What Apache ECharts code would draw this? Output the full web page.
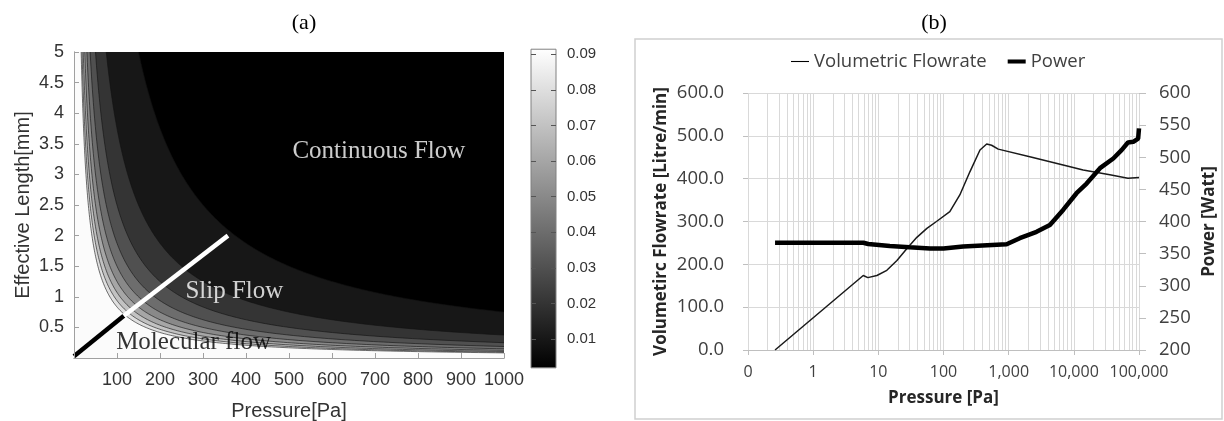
<!DOCTYPE html>
<html>
<head>
<meta charset="utf-8">
<script src="https://cdn.jsdelivr.net/npm/echarts@6/dist/echarts.min.js"></script>
<style>html,body{margin:0;padding:0;background:#fff}#c{width:1224px;height:421px}</style>
</head>
<body>
<div id="c"></div>
<script>
// ---------- (a) Knudsen number contour map ----------
// Kn = knudsenConst / (Pressure[Pa] * Length[mm])  (read from contour positions)
const knudsenConst = 7.5;
const contourLevels = [0.01, 0.02, 0.03, 0.04, 0.05, 0.06, 0.07, 0.08, 0.09];
const colorbarRange = [0.0019, 0.0914];
const colorbarTicks = [0.01, 0.02, 0.03, 0.04, 0.05, 0.06, 0.07, 0.08, 0.09];
const molecularLine = [[0, 0.03], [116, 0.69]];
const slipLine = [[116, 0.69], [358, 2.0]];
const regimeLabels = [
  { p: 709, l: 3.37, text: 'Continuous Flow', color: '#ffffff' },
  { p: 373, l: 1.09, text: 'Slip Flow', color: '#ffffff' },
  { p: 278, l: 0.26, text: 'Molecular flow', color: '#000000' }
];

// ---------- (b) Flowrate / Power vs pressure ----------
const flowPressure = [0.26, 5.87, 6.9, 9.5, 13.5, 19.3, 27.5, 39, 55.6, 78, 125, 178, 254, 363, 460, 547, 692, 2110, 6850, 13900, 35700, 67700, 100000];
const flowValues   = [0, 174, 169, 174, 186, 209, 237, 263, 284, 300, 323, 362, 416, 467, 481, 478, 469, 451, 432, 420, 409, 401, 403];
const powerPressure = [0.26, 5.9, 7, 15, 30, 62, 100, 200, 930, 1480, 2680, 4290, 6850, 11000, 15700, 25200, 40300, 54000, 67700, 81700, 97000, 100000];
const powerValues   = [367, 367, 365, 362, 360, 358, 358, 361, 364.5, 374, 384, 394.5, 418, 444, 459, 483, 498, 511, 523, 524, 529, 545];

const P_MAX = 1000, L_MAX = 5;

function grayAt(k) {
  const t = Math.max(0, Math.min(1, (k - colorbarRange[0]) / (colorbarRange[1] - colorbarRange[0])));
  const g = Math.round(255 * t);
  return 'rgb(' + g + ',' + g + ',' + g + ')';
}

function renderContour(params, api) {
  const k = api.value(2);
  const children = [];
  if (k === 0) {
    const a = api.coord([0, 0]), b = api.coord([P_MAX, L_MAX]);
    children.push({ type: 'rect', shape: { x: a[0], y: b[1], width: b[0] - a[0], height: a[1] - b[1] }, style: { fill: grayAt(colorbarRange[0]) } });
  } else {
    const K = knudsenConst / k;
    const p0 = K / L_MAX;
    const pts = [];
    const n = 200;
    for (let i = 0; i <= n; i++) {
      const P = p0 * Math.pow(P_MAX / p0, i / n);
      pts.push(api.coord([P, K / P]));
    }
    const poly = [api.coord([0, 0]), api.coord([0, L_MAX])].concat(pts, [api.coord([P_MAX, 0])]);
    children.push({ type: 'polygon', shape: { points: poly }, style: { fill: grayAt(k) } });
    children.push({ type: 'polyline', shape: { points: pts }, style: { stroke: '#111', lineWidth: 0.6, fill: null } });
  }
  return { type: 'group', children: children };
}

function renderColorbar(params, api) {
  const a = api.coord([api.value(0), api.value(1)]);
  const b = api.coord([api.value(2), api.value(3)]);
  return {
    type: 'rect',
    shape: { x: a[0], y: b[1], width: b[0] - a[0], height: a[1] - b[1] },
    style: {
      fill: new echarts.graphic.LinearGradient(0, 1, 0, 0, [{ offset: 0, color: '#000' }, { offset: 1, color: '#fff' }]),
      stroke: '#808080', lineWidth: 1
    }
  };
}

const minorGrid = [];
for (let d = -1; d <= 4; d++) {
  for (let m = 2; m <= 9; m++) minorGrid.push({ xAxis: m * Math.pow(10, d) });
}

const serifFont = '"Liberation Serif", "Times New Roman", serif';
const sansA = '"Liberation Sans", Arial, sans-serif';
const sansB = '"Open Sans", "Noto Sans", sans-serif';
const axisGrayA = '#a0a0a0';
const gridGray = '#d9d9d9';

const option = {
  animation: false,
  backgroundColor: '#ffffff',
  graphic: [
    { type: 'text', x: 304, y: 23.5, style: { text: '(a)', font: '22px ' + serifFont, fill: '#000', align: 'center', verticalAlign: 'middle' } },
    { type: 'text', x: 934, y: 23.5, style: { text: '(b)', font: '22px ' + serifFont, fill: '#000', align: 'center', verticalAlign: 'middle' } },
    { type: 'rect', shape: { x: 635, y: 39, width: 587, height: 380 }, style: { fill: 'none', stroke: '#d0d0d0', lineWidth: 1.5 } }
  ],
  legend: {
    data: [
      { name: 'Volumetric Flowrate', icon: 'path://M0,0L20,0L20,1.2L0,1.2Z' },
      { name: 'Power', icon: 'path://M0,0L20,0L20,4.5L0,4.5Z' }
    ],
    left: 786, top: 47,
    itemWidth: 18, itemHeight: 14, itemGap: 21,
    textStyle: { fontFamily: sansB, fontSize: 18.5, color: '#404040' },
    selectedMode: false
  },
  grid: [
    { left: 74, top: 52, width: 430, height: 306, containLabel: false, outerBoundsMode: 'none' },
    { left: 531, top: 18.6, width: 25, height: 356, containLabel: false, outerBoundsMode: 'none' },
    { left: 748, top: 93, width: 391, height: 257, containLabel: false, outerBoundsMode: 'none' }
  ],
  xAxis: [
    { gridIndex: 0, type: 'value', min: 0, max: 1000, interval: 100, position: 'bottom', z: 5,
      axisLine: { lineStyle: { color: axisGrayA } },
      axisTick: { inside: true, length: 5, lineStyle: { color: axisGrayA } },
      axisLabel: { color: '#333', fontFamily: sansA, fontSize: 18, margin: 13, formatter: v => v === 0 ? '' : String(v) },
      splitLine: { show: false },
      name: 'Pressure[Pa]', nameLocation: 'middle', nameGap: 43,
      nameTextStyle: { color: '#333', fontFamily: sansA, fontSize: 20 } },
    { gridIndex: 0, type: 'value', min: 0, max: 1000, position: 'top', z: 5,
      axisLine: { lineStyle: { color: axisGrayA } }, axisTick: { show: false }, axisLabel: { show: false }, splitLine: { show: false } },
    { gridIndex: 1, type: 'value', min: 0, max: 1, show: false },
    { gridIndex: 2, type: 'log', logBase: 10, min: 0.1, max: 100000, z: 0,
      axisLine: { lineStyle: { color: '#bfbfbf' } },
      axisTick: { show: true, inside: false, length: 5, lineStyle: { color: '#bfbfbf' } },
      axisLabel: { color: '#404040', fontFamily: sansB, fontSize: 16, margin: 14,
        formatter: v => v < 1 ? '0' : Math.round(v).toLocaleString('en-US') },
      splitLine: { show: true, lineStyle: { color: gridGray } },
      name: 'Pressure [Pa]', nameLocation: 'middle', nameGap: 40,
      nameTextStyle: { color: '#262626', fontFamily: sansB, fontSize: 17, fontWeight: 'bold' } }
  ],
  yAxis: [
    { gridIndex: 0, type: 'value', min: 0, max: 5, interval: 0.5, position: 'left', z: 5,
      axisLine: { show: true, lineStyle: { color: axisGrayA } },
      axisTick: { show: true, inside: true, length: 5, lineStyle: { color: axisGrayA } },
      axisLabel: { color: '#333', fontFamily: sansA, fontSize: 18, margin: 10, formatter: v => v === 0 ? '' : String(v) },
      splitLine: { show: false },
      name: 'Effective Length[mm]', nameLocation: 'middle', nameGap: 41,
      nameTextStyle: { color: '#333', fontFamily: sansA, fontSize: 20 } },
    { gridIndex: 0, type: 'value', min: 0, max: 5, position: 'right', z: 5,
      axisLine: { show: true, lineStyle: { color: axisGrayA } }, axisTick: { show: false }, axisLabel: { show: false }, splitLine: { show: false } },
    { gridIndex: 1, type: 'value', min: 0, max: 0.1, interval: 0.01, position: 'left', z: 5,
      axisLine: { show: false },
      axisTick: { show: true, inside: true, length: 5, lineStyle: { color: '#555' }, customValues: colorbarTicks },
      axisLabel: { show: false }, splitLine: { show: false } },
    { gridIndex: 1, type: 'value', min: 0, max: 0.1, interval: 0.01, position: 'right', z: 5,
      axisLine: { show: false },
      axisTick: { show: true, inside: true, length: 5, lineStyle: { color: '#555' }, customValues: colorbarTicks },
      axisLabel: { color: '#333', fontFamily: sansA, fontSize: 15, margin: 11, customValues: colorbarTicks,
        formatter: v => (v < 0.005 || v > 0.095) ? '' : v.toFixed(2) },
      splitLine: { show: false } },
    { gridIndex: 2, type: 'value', min: 0, max: 600, interval: 100, position: 'left', z: 0,
      axisLine: { show: false },
      axisTick: { show: true, inside: false, length: 5, lineStyle: { color: '#bfbfbf' } },
      axisLabel: { color: '#404040', fontFamily: sansB, fontSize: 18.5, margin: 24, formatter: v => v.toFixed(1) },
      splitLine: { show: true, lineStyle: { color: gridGray } },
      name: 'Volumetirc Flowrate [Litre/min]', nameLocation: 'middle', nameGap: 78, nameRotate: 90,
      nameTextStyle: { color: '#262626', fontFamily: sansB, fontSize: 17, fontWeight: 'bold' } },
    { gridIndex: 2, type: 'value', min: 200, max: 600, interval: 50, position: 'right', z: 0,
      axisLine: { show: false },
      axisTick: { show: true, inside: false, length: 7, lineStyle: { color: '#bfbfbf' } },
      axisLabel: { color: '#404040', fontFamily: sansB, fontSize: 18.5, margin: 20 },
      splitLine: { show: false },
      name: 'Power [Watt]', nameLocation: 'middle', nameGap: 62, nameRotate: 90,
      nameTextStyle: { color: '#262626', fontFamily: sansB, fontSize: 17, fontWeight: 'bold' } }
  ],
  series: [
    { type: 'custom', name: 'Kn', xAxisIndex: 0, yAxisIndex: 0, z: 2, clip: true, silent: true,
      renderItem: renderContour,
      data: [[0, 0, 0]].concat(contourLevels.map(k => [0, 0, k])) },
    { type: 'line', xAxisIndex: 0, yAxisIndex: 0, z: 3, symbol: 'none', silent: true,
      lineStyle: { color: '#000', width: 4.5 }, data: molecularLine },
    { type: 'line', xAxisIndex: 0, yAxisIndex: 0, z: 3, symbol: 'none', silent: true,
      lineStyle: { color: '#fff', width: 4.5 }, data: slipLine },
    { type: 'scatter', xAxisIndex: 0, yAxisIndex: 0, z: 4, symbolSize: 0, silent: true,
      data: regimeLabels.map(r => ({ value: [r.p, r.l], name: r.text,
        label: { show: true, position: 'inside', formatter: r.text, color: r.color, fontFamily: serifFont, fontSize: 25 } })) },
    { type: 'custom', name: 'colorbar', xAxisIndex: 2, yAxisIndex: 2, z: 2, silent: true,
      renderItem: renderColorbar,
      data: [[0, colorbarRange[0], 1, colorbarRange[1]]] },
    { type: 'line', name: 'grid', xAxisIndex: 3, yAxisIndex: 4, z: 0, silent: true, data: [],
      markLine: { z: 0, silent: true, symbol: ['none', 'none'], label: { show: false },
        lineStyle: { color: gridGray, type: 'solid', width: 1 }, emphasis: { disabled: true }, data: minorGrid } },
    { type: 'line', name: 'Volumetric Flowrate', xAxisIndex: 3, yAxisIndex: 4, z: 6, symbol: 'none',
      lineStyle: { color: '#1a1a1a', width: 1.5 }, itemStyle: { color: '#000' },
      data: flowPressure.map((p, i) => [p, flowValues[i]]) },
    { type: 'line', name: 'Power', xAxisIndex: 3, yAxisIndex: 5, z: 6, symbol: 'none',
      lineStyle: { color: '#000', width: 4.5 }, itemStyle: { color: '#000' },
      data: powerPressure.map((p, i) => [p, powerValues[i]]) }
  ]
};

const chart = echarts.init(document.getElementById('c'));
chart.setOption(option);
</script>
</body>
</html>
